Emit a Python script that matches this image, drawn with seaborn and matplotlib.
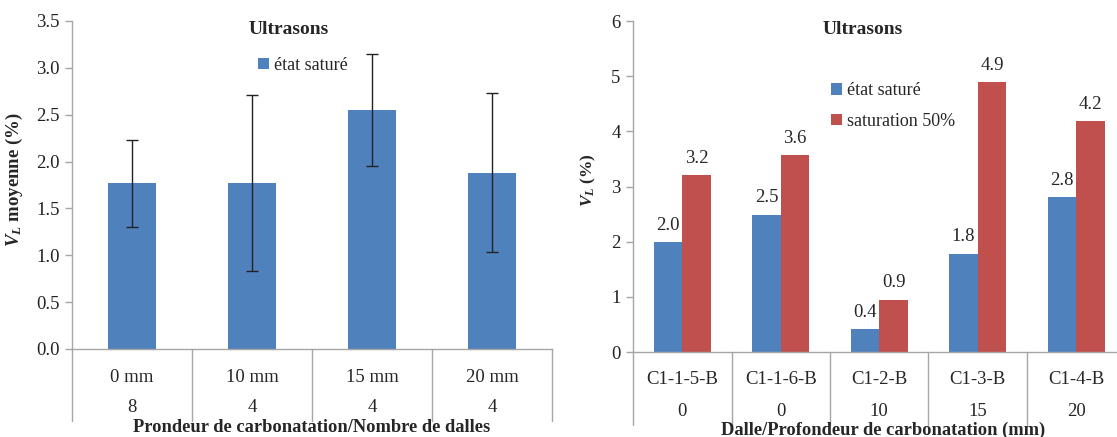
import numpy as np
import pandas as pd
import matplotlib
matplotlib.use("Agg")
import matplotlib.pyplot as plt
import seaborn as sns

# ---- data ----
# left chart: mean V_L per carbonation depth (saturated state)
depths = ["0 mm", "10 mm", "15 mm", "20 mm"]
n_slabs = ["8", "4", "4", "4"]
vl_mean = [1.77, 1.77, 2.55, 1.88]
vl_err = [0.465, 0.94, 0.595, 0.85]

# right chart: V_L per slab, two saturation states
slabs = ["C1-1-5-B", "C1-1-6-B", "C1-2-B", "C1-3-B", "C1-4-B"]
slab_depth = ["0", "0", "10", "15", "20"]
vl_sat = [1.99, 2.49, 0.42, 1.78, 2.81]
vl_sat50 = [3.21, 3.57, 0.95, 4.89, 4.19]
series = ["état saturé", "saturation 50%"]

BLUE = "#4F81BD"
RED = "#C0504D"
GREY = "#A6A6A6"
FS = 13.5

sns.set_theme(style="white")
plt.rcParams["font.family"] = ["Liberation Serif", "DejaVu Serif"]
plt.rcParams["mathtext.fontset"] = "custom"
plt.rcParams["mathtext.it"] = "Liberation Serif:italic:bold"
plt.rcParams["mathtext.rm"] = "Liberation Serif:bold"
plt.rcParams["font.size"] = FS

fig = plt.figure(figsize=(11.17, 4.37), dpi=100)
ax1 = fig.add_axes([0.0645, 0.2014, 0.4297, 0.7506])
ax2 = fig.add_axes([0.5667, 0.1945, 0.4409, 0.7574])


def style_axis(ax):
    for s in ["top", "right"]:
        ax.spines[s].set_visible(False)
    for s in ["left", "bottom"]:
        ax.spines[s].set_color(GREY)
        ax.spines[s].set_linewidth(1)
    ax.tick_params(axis="y", left=True, length=5, width=1, color=GREY,
                   labelsize=FS, pad=4, labelcolor="#222222")
    ax.tick_params(axis="x", bottom=False, labelbottom=False)
    ax.set_xlabel("")


def hier_labels(ax, row1, row2, y1, y2, ybot):
    tr = ax.get_xaxis_transform()
    n = len(row1)
    for i in range(n):
        ax.text(i, y1, row1[i], transform=tr, ha="center", va="center", fontsize=FS)
        ax.text(i, y2, row2[i], transform=tr, ha="center", va="center", fontsize=FS)
    for i in range(n + 1):
        ax.plot([i - 0.5, i - 0.5], [0, ybot], transform=tr, color=GREY,
                lw=1, clip_on=False)


# ---- left chart ----
df1 = pd.DataFrame({"depth": depths, "vl": vl_mean, "serie": series[0]})
sns.barplot(data=df1, x="depth", y="vl", hue="serie", palette=[BLUE],
            saturation=1, width=0.4, errorbar=None, ax=ax1, linewidth=0)
ax1.errorbar(np.arange(len(depths)), vl_mean, yerr=vl_err, fmt="none",
             ecolor="#222222", elinewidth=1, capsize=4, capthick=1)
ax1.set_xlim(-0.5, len(depths) - 0.5)
ax1.set_ylim(0, 3.5)
ax1.set_yticks(np.arange(0, 3.51, 0.5))
ax1.set_yticklabels([f"{v:.1f}" for v in np.arange(0, 3.51, 0.5)])
style_axis(ax1)
ax1.set_ylabel(r"$V_L$ moyenne (%)", fontweight="bold", fontsize=13.5)
ax1.yaxis.set_label_coords(-0.098, 0.515)
hier_labels(ax1, depths, n_slabs, -0.0854, -0.177, -0.2195)
ax1.text(0.5, -0.24, "Prondeur de carbonatation/Nombre de dalles",
         transform=ax1.transAxes, ha="center", va="center",
         fontweight="bold", fontsize=13.3)
ax1.text(0.452, 0.975, "Ultrasons", transform=ax1.transAxes, ha="center",
         va="center", fontweight="bold", fontsize=14)
ax1.legend(loc="upper left", bbox_to_anchor=(0.3875, 0.89), frameon=False,
           handlelength=0.6, handleheight=0.6, handletextpad=0.3,
           borderpad=0, borderaxespad=0, fontsize=13)

# ---- right chart ----
df2 = pd.DataFrame({
    "slab": slabs * 2,
    "vl": vl_sat + vl_sat50,
    "serie": [series[0]] * len(slabs) + [series[1]] * len(slabs),
})
sns.barplot(data=df2, x="slab", y="vl", hue="serie", palette=[BLUE, RED],
            saturation=1, width=0.58, errorbar=None, ax=ax2, linewidth=0)
for c in ax2.containers:
    ax2.bar_label(c, fmt="%.1f", padding=6, fontsize=FS)
ax2.set_xlim(-0.5, len(slabs) - 0.5)
ax2.set_ylim(0, 6)
ax2.set_yticks(range(0, 7))
style_axis(ax2)
ax2.set_ylabel(r"$V_L$ (%)", fontweight="bold", fontsize=12.5)
ax2.yaxis.set_label_coords(-0.072, 0.52)
hier_labels(ax2, slabs, slab_depth, -0.0816, -0.181, -0.2205)
ax2.text(0.507, -0.236, "Dalle/Profondeur de carbonatation (mm)",
         transform=ax2.transAxes, ha="center", va="center",
         fontweight="bold", fontsize=13.3)
ax2.text(0.467, 0.975, "Ultrasons", transform=ax2.transAxes, ha="center",
         va="center", fontweight="bold", fontsize=14)
ax2.legend(loc="upper left", bbox_to_anchor=(0.402, 0.815), frameon=False,
           handlelength=0.6, handleheight=0.6, handletextpad=0.3,
           labelspacing=0.75, borderpad=0, borderaxespad=0, fontsize=13)

fig.savefig("out.png", dpi=100)
